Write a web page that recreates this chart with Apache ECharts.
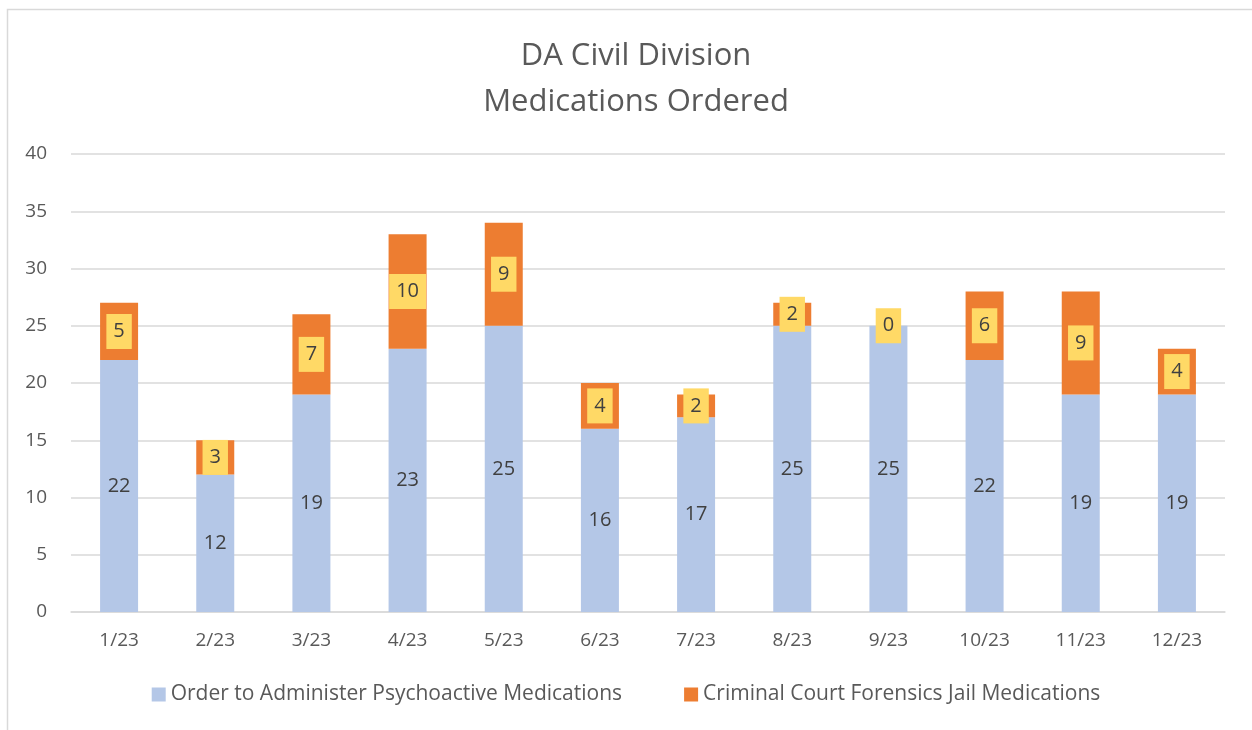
<!DOCTYPE html>
<html>
<head>
<meta charset="utf-8">
<script src="https://cdn.jsdelivr.net/npm/echarts@6/dist/echarts.min.js"></script>
<style>
  html, body { margin: 0; padding: 0; background: #fff; }
  #chart { width: 1252px; height: 730px; }
</style>
</head>
<body>
<div id="chart"></div>
<script>
// data
var months = ['1/23','2/23','3/23','4/23','5/23','6/23','7/23','8/23','9/23','10/23','11/23','12/23'];
var orderMeds = [22, 12, 19, 23, 25, 16, 17, 25, 25, 22, 19, 19];
var jailMeds = [5, 3, 7, 10, 9, 4, 2, 2, 0, 6, 9, 4];
var yTicks = [0, 5, 10, 15, 20, 25, 30, 35, 40];

var font = 'Open Sans';
var grey = '#595959';

var chart = echarts.init(document.getElementById('chart'));
chart.setOption({
  animation: false,
  textStyle: { fontFamily: font },
  graphic: [{
    type: 'rect',
    shape: { x: 7.5, y: 9.5, width: 1300, height: 760 },
    style: { fill: 'none', stroke: '#d9d9d9', lineWidth: 1.5 },
    silent: true
  }],
  title: {
    text: 'DA Civil Division\nMedications Ordered',
    left: 631,
    textAlign: 'center',
    top: 28,
    textStyle: { fontFamily: font, fontSize: 31, fontWeight: 'normal', color: grey, lineHeight: 46 }
  },
  legend: {
    bottom: 20,
    left: 'center',
    itemWidth: 14,
    itemHeight: 14,
    itemGap: 62,
    icon: 'rect',
    textStyle: { fontFamily: font, fontSize: 21, color: grey }
  },
  grid: { left: 71, right: 27, top: 154, bottom: 118 },
  xAxis: {
    type: 'category',
    data: months,
    axisLine: { lineStyle: { color: '#d9d9d9', width: 1.5 } },
    axisTick: { show: false },
    axisLabel: { fontFamily: font, fontSize: 19, color: grey, margin: 19 }
  },
  yAxis: {
    type: 'value',
    min: yTicks[0],
    max: yTicks[yTicks.length - 1],
    interval: 5,
    axisLine: { show: false },
    axisTick: { show: false },
    axisLabel: { fontFamily: font, fontSize: 19, color: grey, margin: 24 },
    splitLine: { lineStyle: { color: '#d9d9d9', width: 1.5 } }
  },
  series: [
    {
      name: 'Order to Administer Psychoactive Medications',
      type: 'bar',
      stack: 'total',
      barWidth: 38,
      data: orderMeds,
      itemStyle: { color: '#B4C7E7' },
      label: { show: true, position: 'inside', fontFamily: font, fontSize: 20, color: '#404040' }
    },
    {
      name: 'Criminal Court Forensics Jail Medications',
      type: 'bar',
      stack: 'total',
      barWidth: 38,
      data: jailMeds,
      itemStyle: { color: '#ED7D31' },
      label: {
        show: true, position: 'inside', fontFamily: font, fontSize: 20, color: '#404040',
        backgroundColor: '#FFD966', padding: [8, 7, 7, 7]
      }
    }
  ]
});
</script>
</body>
</html>
